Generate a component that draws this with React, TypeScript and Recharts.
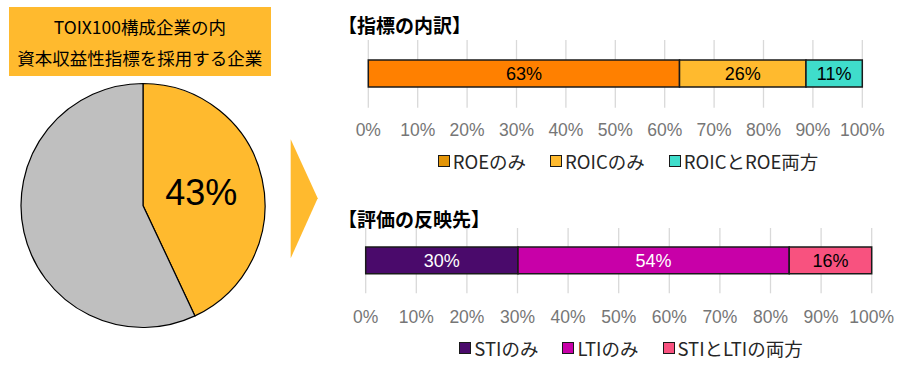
import { PieChart, Pie, Cell, BarChart, Bar, XAxis, YAxis, CartesianGrid, LabelList } from "recharts";

const JP = "'Noto Sans CJK JP', 'Noto Sans', sans-serif";
const LATIN = "'Liberation Sans', Arial, sans-serif";

// pie: share of TOPIX100 companies using a capital efficiency KPI
const pieNames = ["採用", "不採用"];
const pieValues = [43, 57];
const pieColors = ["#FFBA2E", "#BFBFBF"];

// indicator breakdown
const indicatorNames = ["ROEのみ", "ROICのみ", "ROICとROE両方"];
const indicatorShares = [63, 25.6, 11.4];
const indicatorColors = ["#FF8000", "#FFBA2E", "#3FDDCB"];
const indicatorSwatches = ["#E39508", "#FFBA2E", "#3FDDCB"];
const indicatorLabelColors = ["#000", "#000", "#000"];

// where it is reflected
const reflectNames = ["STIのみ", "LTIのみ", "STIとLTIの両方"];
const reflectShares = [30.1, 53.6, 16.3];
const reflectColors = ["#4A0A6B", "#C800A8", "#F8527F"];
const reflectLabelColors = ["#fff", "#fff", "#000"];

const pctTicks = [0, 10, 20, 30, 40, 50, 60, 70, 80, 90, 100];

const RADIAN = Math.PI / 180;

const pieData = pieNames.map((name, i) => ({ name, value: pieValues[i] }));

function pieLabel(props: any) {
  const { cx, cy, midAngle, outerRadius, index, value } = props;
  if (index !== 0) return null;
  const r = outerRadius * 0.49;
  const x = cx + r * Math.cos(-midAngle * RADIAN);
  const y = cy + r * Math.sin(-midAngle * RADIAN);
  return (
    <text x={x} y={y} textAnchor="middle" dominantBaseline="central" fontSize={36} fontFamily={LATIN} fill="#000">
      {value}%
    </text>
  );
}

interface StackProps {
  names: string[];
  values: number[];
  colors: string[];
  labelColors: string[];
  height: number;
  margin: { top: number; right: number; bottom: number; left: number };
  axisHeight: number;
  tickGap: number;
  barSize: number;
}

function StackBar({ names, values, colors, labelColors, height, margin, axisHeight, tickGap, barSize }: StackProps) {
  const row: any = { name: "row" };
  values.forEach((v, i) => (row["s" + i] = v));
  return (
    <BarChart width={900} height={height} data={[row]} layout="vertical" margin={margin}>
      <CartesianGrid horizontal={false} stroke="#D9D9D9" strokeWidth={1.3} />
      <XAxis
        type="number"
        domain={[0, 100]}
        ticks={pctTicks}
        tickFormatter={(v: number) => v + "%"}
        axisLine={false}
        tickLine={false}
        tickSize={0}
        tickMargin={tickGap}
        height={axisHeight}
        interval={0}
        tick={{ fontSize: 17.5, fontFamily: LATIN, fill: "#767676" }}
      />
      <YAxis type="category" dataKey="name" hide />
      {names.map((n, i) => (
        <Bar
          key={n}
          dataKey={"s" + i}
          name={n}
          stackId="a"
          fill={colors[i]}
          stroke="#1A1A1A"
          strokeWidth={1.5}
          barSize={barSize}
          isAnimationActive={false}
        >
          <LabelList
            dataKey={"s" + i}
            position="center"
            formatter={(v: any) => Math.round(Number(v)) + "%"}
            fill={labelColors[i]}
            fontSize={18}
            fontFamily={LATIN}
          />
        </Bar>
      ))}
    </BarChart>
  );
}

function LegendRow({ names, swatches, left, top }: { names: string[]; swatches: string[]; left: number; top: number }) {
  return (
    <div style={{ position: "absolute", left, top, display: "flex", alignItems: "center", gap: 24 }}>
      {names.map((n, i) => (
        <div key={n} style={{ display: "flex", alignItems: "center" }}>
          <span
            style={{
              width: 12,
              height: 12,
              boxSizing: "border-box",
              border: "1.3px solid #1A1A1A",
              background: swatches[i],
              marginRight: 3,
            }}
          />
          <span style={{ fontFamily: JP, fontSize: 18.5, lineHeight: "18px", color: "#262626" }}>{n}</span>
        </div>
      ))}
    </div>
  );
}

export default function App() {
  return (
    <div style={{ position: "absolute", left: 0, top: 0, width: 900, height: 377, background: "#fff", overflow: "hidden" }}>
      <div
        style={{
          position: "absolute",
          left: 9,
          top: 6.7,
          width: 261.7,
          height: 69.3,
          boxSizing: "border-box",
          paddingTop: 5.7,
          background: "#FFBA2E",
          textAlign: "center",
          fontFamily: JP,
          fontSize: 17.5,
          lineHeight: "30.6px",
          color: "#000",
        }}
      >
        TOIX100構成企業の内
        <br />
        資本収益性指標を採用する企業
      </div>

      <div style={{ position: "absolute", left: 0, top: 0 }}>
        <PieChart width={300} height={377} margin={{ top: 0, right: 0, bottom: 0, left: 0 }}>
          <Pie
            data={pieData}
            dataKey="value"
            cx={143}
            cy={205.5}
            outerRadius={122}
            startAngle={90}
            endAngle={-270}
            stroke="#000"
            strokeWidth={1.2}
            label={pieLabel}
            labelLine={false}
            isAnimationActive={false}
          >
            {pieData.map((d, i) => (
              <Cell key={d.name} fill={pieColors[i]} />
            ))}
          </Pie>
        </PieChart>
      </div>

      <svg style={{ position: "absolute", left: 0, top: 0 }} width={900} height={377}>
        <polygon points="290.7,139.3 317.7,198.3 290.7,258.3" fill="#FFBA2E" />
      </svg>

      <div style={{ position: "absolute", left: 338, top: 14.5, fontFamily: JP, fontSize: 19, fontWeight: 700, lineHeight: "19px", color: "#000" }}>
        【指標の内訳】
      </div>
      <div style={{ position: "absolute", left: 338, top: 208.8, fontFamily: JP, fontSize: 19, fontWeight: 700, lineHeight: "19px", color: "#000" }}>
        【評価の反映先】
      </div>

      <div style={{ position: "absolute", left: 0, top: 0 }}>
        <StackBar
          names={indicatorNames}
          values={indicatorShares}
          colors={indicatorColors}
          labelColors={indicatorLabelColors}
          height={140}
          margin={{ top: 40, right: 37.7, bottom: 0, left: 368.3 }}
          axisHeight={32.3}
          tickGap={16.3}
          barSize={27}
        />
      </div>
      <div style={{ position: "absolute", left: 0, top: 0 }}>
        <StackBar
          names={reflectNames}
          values={reflectShares}
          colors={reflectColors}
          labelColors={reflectLabelColors}
          height={330}
          margin={{ top: 228, right: 28.3, bottom: 0, left: 365.7 }}
          axisHeight={36.7}
          tickGap={17.3}
          barSize={26.7}
        />
      </div>

      <LegendRow names={indicatorNames} swatches={indicatorSwatches} left={437.7} top={151.9} />
      <LegendRow names={reflectNames} swatches={reflectColors} left={459.3} top={338.5} />
    </div>
  );
}
